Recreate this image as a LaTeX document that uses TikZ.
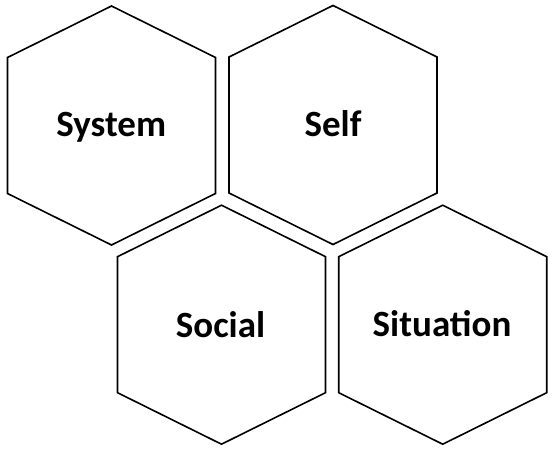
\documentclass[tikz,border=0pt]{standalone}
\usepackage{fontspec}
\setmainfont{Carlito}
\begin{document}
\begin{tikzpicture}[x=1pt,y=1pt,
  hexline/.style={draw=black,line width=1.6pt,line join=miter,fill=white},
  hexlabel/.style={anchor=base,font=\fontsize{37}{42}\selectfont\bfseries,inner sep=0pt}]
\useasboundingbox (0,0) rectangle (552,448);
\fill[white] (0,0) rectangle (552,448);
\newcommand\myhex[2]{%
  \path[hexline] (#1,#2+119.5) -- (#1+104,#2+68) -- (#1+104,#2-68) -- (#1,#2-119.5)
    -- (#1-104,#2-68) -- (#1-104,#2+68) -- cycle;}
\myhex{111.5}{322.5}
\myhex{333}{323}
\myhex{221.5}{123.3}
\myhex{442.7}{123.3}
\node[hexlabel] (system) at (111.2,311) {System};
\node[hexlabel] (self) at (333,311.5) {Self};
\node[hexlabel] (social) at (220.5,111) {Social};
\node[hexlabel] (situation) at (442,111.5) {Situation};
\end{tikzpicture}
\end{document}
